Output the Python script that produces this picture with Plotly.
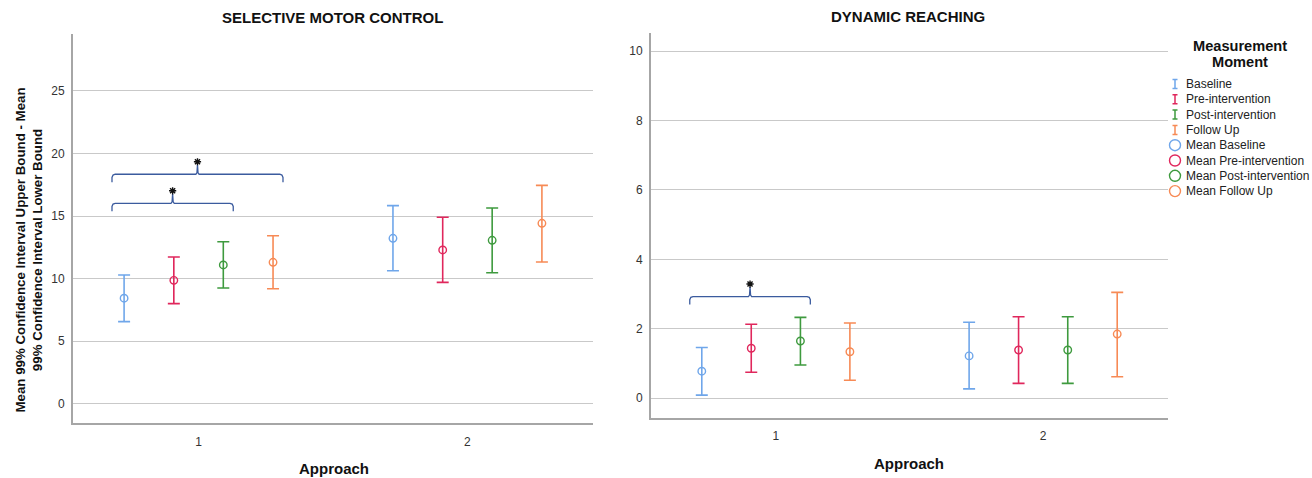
import plotly.graph_objects as go

W, H = 1312, 478

# ---------------- data ----------------
approach = [1, 2]
moments = ["Baseline", "Pre-intervention", "Post-intervention", "Follow Up"]
colors = ["#6fa6ea", "#e0275c", "#3e9a3e", "#f78a55"]

# SELECTIVE MOTOR CONTROL
smc_mean = {
    "Baseline": [8.43, 13.22],
    "Pre-intervention": [9.86, 12.29],
    "Post-intervention": [11.09, 13.06],
    "Follow Up": [11.30, 14.42],
}
smc_upper = {
    "Baseline": [10.29, 15.83],
    "Pre-intervention": [11.73, 14.90],
    "Post-intervention": [12.95, 15.64],
    "Follow Up": [13.43, 17.45],
}
smc_lower = {
    "Baseline": [6.56, 10.63],
    "Pre-intervention": [8.00, 9.70],
    "Post-intervention": [9.25, 10.47],
    "Follow Up": [9.19, 11.33],
}

# DYNAMIC REACHING
dr_mean = {
    "Baseline": [0.78, 1.22],
    "Pre-intervention": [1.44, 1.39],
    "Post-intervention": [1.65, 1.39],
    "Follow Up": [1.34, 1.85],
}
dr_upper = {
    "Baseline": [1.46, 2.19],
    "Pre-intervention": [2.13, 2.35],
    "Post-intervention": [2.33, 2.35],
    "Follow Up": [2.17, 3.05],
}
dr_lower = {
    "Baseline": [0.09, 0.27],
    "Pre-intervention": [0.75, 0.43],
    "Post-intervention": [0.96, 0.43],
    "Follow Up": [0.52, 0.62],
}

smc_ticks = [0, 5, 10, 15, 20, 25]
dr_ticks = [0, 2, 4, 6, 8, 10]

# significance brackets: (panel, approach, from moment, to moment, bracket level)
brackets = [
    ("smc", 1, "Baseline", "Post-intervention", 16.02),
    ("smc", 1, "Baseline", "Follow Up", 18.34),
    ("dr", 1, "Baseline", "Post-intervention", 2.93),
]

# ---------------- layout helpers ----------------
offsets = [-0.277, -0.092, 0.092, 0.277]
xrange_ = [0.533, 2.467]
FONT = "Liberation Sans, Arial"


def px_dom_x(a, b):
    return [a / W, b / W]


def px_dom_y(top, bottom):
    return [1 - bottom / H, 1 - top / H]


fig = go.Figure()

panels = {
    "smc": dict(xa="x", ya="y", mean=smc_mean, up=smc_upper, lo=smc_lower,
                span=29.53 + 1.57, px=423.3 - 34.3),
    "dr": dict(xa="x2", ya="y2", mean=dr_mean, up=dr_upper, lo=dr_lower,
               span=10.53 + 0.56, px=417.7 - 32.7),
}

for key, p in panels.items():
    for i, m in enumerate(moments):
        xs = [a + offsets[i] for a in approach]
        mean = p["mean"][m]
        up = [u - v for u, v in zip(p["up"][m], mean)]
        lo = [v - l for l, v in zip(p["lo"][m], mean)]
        fig.add_trace(go.Scatter(
            x=xs, y=mean, mode="markers", xaxis=p["xa"], yaxis=p["ya"],
            marker=dict(symbol="circle-open", size=7.5, color=colors[i],
                        line=dict(width=1.4, color=colors[i])),
            error_y=dict(type="data", array=up, arrayminus=lo, symmetric=False,
                         color=colors[i], thickness=1.6, width=6),
            showlegend=False, hoverinfo="skip"))

# brackets
for panel, a, m1, m2, yb in brackets:
    p = panels[panel]
    u = p["span"] / p["px"]  # data units per pixel
    x1 = a + offsets[moments.index(m1)] - 0.045
    x2 = a + offsets[moments.index(m2)] + 0.037
    xm = (x1 + x2) / 2
    d = 8 * u
    hh = 9.5 * u
    ex = 0.012
    bx = [x1, x1, x1 + 0.004, x1 + ex, xm - 0.006, xm - 0.002, xm, xm + 0.002, xm + 0.006,
          x2 - ex, x2 - 0.004, x2, x2]
    by = [yb - d, yb - d * 0.4, yb - d * 0.1, yb, yb, yb + hh * 0.15, yb + hh, yb + hh * 0.15, yb,
          yb, yb - d * 0.1, yb - d * 0.4, yb - d]
    fig.add_trace(go.Scatter(x=bx, y=by, mode="lines", xaxis=p["xa"], yaxis=p["ya"],
                             line=dict(color="#3b5b9e", width=1.3),
                             showlegend=False, hoverinfo="skip"))
    fig.add_trace(go.Scatter(x=[xm], y=[yb + hh + 3 * u], mode="markers",
                             xaxis=p["xa"], yaxis=p["ya"],
                             marker=dict(symbol="asterisk-open", size=6, color="#111",
                                         line=dict(width=1.4, color="#111")),
                             showlegend=False, hoverinfo="skip"))

# ---------------- legend (drawn on a pixel overlay axis) ----------------
leg_x = 1175
leg_y0 = 84
leg_dy = 15.3
for i, m in enumerate(moments):
    fig.add_trace(go.Scatter(
        x=[leg_x], y=[leg_y0 + i * leg_dy], mode="markers", xaxis="x3", yaxis="y3",
        marker=dict(size=1, color="rgba(0,0,0,0)"),
        error_y=dict(type="constant", value=4.5, color=colors[i], thickness=1.5, width=2.5),
        showlegend=False, hoverinfo="skip"))
    fig.add_trace(go.Scatter(
        x=[leg_x], y=[leg_y0 + (i + 4) * leg_dy], mode="markers", xaxis="x3", yaxis="y3",
        marker=dict(symbol="circle-open", size=11, color=colors[i],
                    line=dict(width=1.4, color=colors[i])),
        showlegend=False, hoverinfo="skip"))

legend_labels = moments + ["Mean " + m for m in moments]
annotations = []
for j, lab in enumerate(legend_labels):
    annotations.append(dict(
        x=1183.5, y=leg_y0 + j * leg_dy, xref="x3", yref="y3", text=lab,
        showarrow=False, xanchor="left", yanchor="middle",
        font=dict(family=FONT, size=12, color="#222")))
for k, t in enumerate(["Measurement", "Moment"]):
    annotations.append(dict(
        x=1239.6, y=46 + k * 15.5, xref="x3", yref="y3", text="<b>" + t + "</b>",
        showarrow=False, xanchor="center", yanchor="middle",
        font=dict(family=FONT, size=14.6, color="#111")))

# titles
annotations.append(dict(x=332.5, y=17, xref="x3", yref="y3", text="<b>SELECTIVE MOTOR CONTROL</b>",
                        showarrow=False, xanchor="center", yanchor="middle",
                        font=dict(family=FONT, size=15, color="#111")))
annotations.append(dict(x=908, y=16, xref="x3", yref="y3", text="<b>DYNAMIC REACHING</b>",
                        showarrow=False, xanchor="center", yanchor="middle",
                        font=dict(family=FONT, size=15, color="#111")))
# x axis titles
annotations.append(dict(x=333.5, y=468, xref="x3", yref="y3", text="<b>Approach</b>",
                        showarrow=False, xanchor="center", yanchor="middle",
                        font=dict(family=FONT, size=15, color="#111")))
annotations.append(dict(x=909, y=463, xref="x3", yref="y3", text="<b>Approach</b>",
                        showarrow=False, xanchor="center", yanchor="middle",
                        font=dict(family=FONT, size=15, color="#111")))
# y axis title
annotations.append(dict(x=28.5, y=250, xref="x3", yref="y3",
                        text="<b>Mean 99% Confidence Interval Upper Bound - Mean<br>99% Confidence Interval Lower Bound</b>",
                        showarrow=False, xanchor="center", yanchor="middle", textangle=-90,
                        font=dict(family=FONT, size=13.3, color="#111")))

axis_common = dict(showline=True, linecolor="#a6a6a6", linewidth=2, zeroline=False,
                   ticks="", tickfont=dict(family=FONT, size=12, color="#333"))

fig.update_layout(
    width=W, height=H,
    margin=dict(l=0, r=0, t=0, b=0),
    paper_bgcolor="white", plot_bgcolor="rgba(0,0,0,0)",
    showlegend=False,
    annotations=annotations,
    xaxis=dict(domain=px_dom_x(73, 593), range=xrange_, tickvals=approach,
               ticktext=[str(a) for a in approach], showgrid=False, anchor="y",
               ticklabelstandoff=6, **axis_common),
    yaxis=dict(domain=px_dom_y(34.3, 423.3), range=[-1.57, 29.53], tickvals=smc_ticks,
               showgrid=True, gridcolor="#c9c9c9", gridwidth=1, anchor="x",
               ticklabelstandoff=4, **axis_common),
    xaxis2=dict(domain=px_dom_x(651, 1168), range=xrange_, tickvals=approach,
                ticktext=[str(a) for a in approach], showgrid=False, anchor="y2",
                ticklabelstandoff=6, **axis_common),
    yaxis2=dict(domain=px_dom_y(32.7, 417.7), range=[-0.56, 10.53], tickvals=dr_ticks,
                showgrid=True, gridcolor="#c9c9c9", gridwidth=1, anchor="x2",
                ticklabelstandoff=4, **axis_common),
    xaxis3=dict(domain=[0, 1], range=[0, W], visible=False, anchor="y3", fixedrange=True),
    yaxis3=dict(domain=[0, 1], range=[H, 0], visible=False, anchor="x3", fixedrange=True),
)

fig.write_html("out.html")
